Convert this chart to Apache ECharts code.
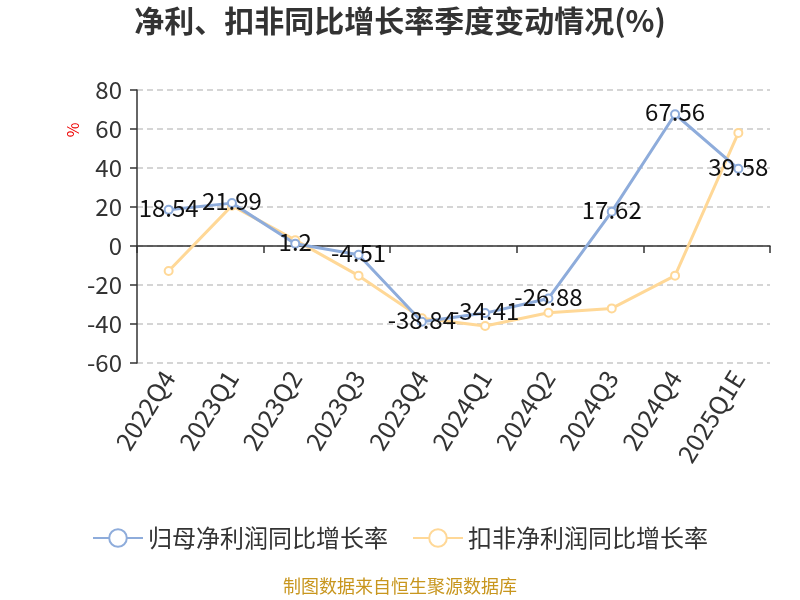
<!DOCTYPE html>
<html><head><meta charset="utf-8">
<script src="https://cdn.jsdelivr.net/npm/echarts@6/dist/echarts.min.js"></script>
<style>html,body{margin:0;padding:0;background:#fff}#c{width:800px;height:600px}</style>
</head><body><div id="c"></div>
<script>
var categories = ['2022Q4','2023Q1','2023Q2','2023Q3','2023Q4','2024Q1','2024Q2','2024Q3','2024Q4','2025Q1E'];
var netProfit = [18.54, 21.99, 1.2, -4.51, -38.84, -34.41, -26.88, 17.62, 67.56, 39.58];
var deductedProfit = [-12.8, 20.7, 3.0, -15.2, -37.0, -41.0, -34.2, -32.0, -15.2, 58.0];
var yTicks = [-60, -40, -20, 0, 20, 40, 60, 80];

var chart = echarts.init(document.getElementById('c'));
var font = '"Noto Sans CJK SC", "Noto Sans", sans-serif';
chart.setOption({
  animation: false,
  textStyle: {fontFamily: font},
  title: {text: '净利、扣非同比增长率季度变动情况(%)', left: 'center', top: 1,
    textStyle: {fontSize: 30, fontWeight: 'bold', color: '#333', fontFamily: font}},
  grid: {left: 137, right: 30, top: 90, bottom: 237},
  legend: {bottom: 45, left: 'center', itemWidth: 50, itemHeight: 22, itemGap: 24,
    textStyle: {fontSize: 24, color: '#333', fontFamily: font},
    data: ['归母净利润同比增长率', '扣非净利润同比增长率']},
  graphic: [{type: 'text', left: 'center', top: 577,
    style: {text: '制图数据来自恒生聚源数据库', fill: '#c8961e', fontSize: 18, fontFamily: font}},
    {type: 'text', x: 73, y: 130, rotation: Math.PI / 2, originX: 0, originY: 0,
     style: {text: '%', fill: '#e00', fontSize: 16, fontFamily: font, align: 'center', verticalAlign: 'middle'}}],
  xAxis: [{
    type: 'category', data: categories, boundaryGap: true,
    axisLine: {show: false, onZero: false}, axisTick: {show: false},
    axisLabel: {rotate: 58, fontSize: 25, color: '#333', margin: 10, interval: 0}
  }, {
    type: 'category', data: categories, boundaryGap: true, position: 'bottom',
    axisLine: {show: true, onZero: true, lineStyle: {color: '#333', width: 1.5}},
    axisTick: {show: true, length: 7, lineStyle: {color: '#333', width: 1.5}},
    axisLabel: {show: false}
  }],
  yAxis: {
    type: 'value', min: -60, max: 80, interval: 20,
    axisLine: {show: true, lineStyle: {color: '#333', width: 1.5}},
    axisTick: {show: true, length: 7, lineStyle: {color: '#333', width: 1.5}},
    axisLabel: {fontSize: 24, color: '#333', margin: 15,
      formatter: function (v) { return yTicks.indexOf(v) >= 0 ? String(v) : ''; }},
    splitLine: {show: true, lineStyle: {type: [6, 4], color: '#c8c8c8', width: 1.5}}
  },
  series: [{
    name: '归母净利润同比增长率', type: 'line', data: netProfit, xAxisIndex: 0,
    symbol: 'emptyCircle', symbolSize: 8, z: 3,
    itemStyle: {color: '#8eacdb'}, lineStyle: {width: 3, color: '#8eacdb'},
    label: {show: true, position: 'inside', offset: [0, -2], fontSize: 24, color: '#111', fontFamily: font}
  }, {
    name: '扣非净利润同比增长率', type: 'line', data: deductedProfit, xAxisIndex: 0,
    symbol: 'emptyCircle', symbolSize: 8, z: 2,
    itemStyle: {color: '#ffd897'}, lineStyle: {width: 3, color: '#ffd897'},
    label: {show: false}
  }]
});
</script></body></html>
